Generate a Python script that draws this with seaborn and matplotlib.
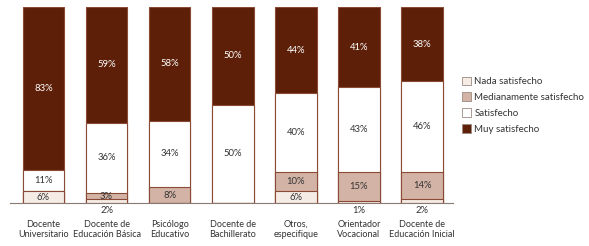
import matplotlib
matplotlib.use("Agg")
import matplotlib.pyplot as plt
import seaborn as sns
import numpy as np
import pandas as pd
from matplotlib.patches import Patch

categories = ["Docente\nUniversitario", "Docente de\nEducación Básica", "Psicólogo\nEducativo",
              "Docente de\nBachillerato", "Otros,\nespecifique", "Orientador\nVocacional",
              "Docente de\nEducación Inicial"]
series = ["Nada satisfecho", "Medianamente satisfecho", "Satisfecho", "Muy satisfecho"]
nada = [6, 2, 0, 0, 6, 1, 2]
medianamente = [0, 3, 8, 0, 10, 15, 14]
satisfecho = [11, 36, 34, 50, 40, 43, 46]
muy = [83, 59, 58, 50, 44, 41, 38]

colors = ["#f6ece6", "#d2b3a5", "#ffffff", "#5d1f08"]
edge = "#8a4a36"

sns.set_theme(style="white")
plt.rcParams["font.family"] = ["Lato", "DejaVu Sans"]

fig = plt.figure(figsize=(5.89, 2.46), dpi=100)
ax = fig.add_axes([10 / 589, 43 / 246, 443 / 589, 196 / 246])

vals = np.array([nada, medianamente, satisfecho, muy])
cum = vals.cumsum(axis=0)

# draw cumulative totals from the top segment down so the smaller ones stay visible
for i in range(3, -1, -1):
    df = pd.DataFrame({"cat": categories, "v": cum[i]})
    sns.barplot(data=df, x="cat", y="v", color=colors[i], edgecolor=edge,
                linewidth=0.8, width=0.66, saturation=1, ax=ax)

for j in range(len(categories)):
    for i in range(4):
        v = vals[i, j]
        if v == 0:
            continue
        mid = cum[i, j] - v / 2
        tc = "white" if i == 3 else "#333333"
        if v < 3:
            ax.text(j, -1.5, f"{v}%", ha="center", va="top", fontsize=6.8, color="#333333")
        else:
            ax.text(j, mid, f"{v}%", ha="center", va="center", fontsize=6.8, color=tc)

ax.set_xlim(-0.53, 6.49)
ax.set_ylim(0, 100)
ax.set_xlabel("")
ax.set_ylabel("")
ax.set_yticks([])
ax.tick_params(axis="x", length=0, pad=12, labelsize=6.5, colors="#333333")
sns.despine(ax=ax, left=True)
ax.spines["bottom"].set_color("#8a7a72")
ax.spines["bottom"].set_linewidth(0.8)

handles = [Patch(facecolor=colors[i], edgecolor="#9a8a82", linewidth=0.6, label=series[i])
           for i in range(4)]
fig.legend(handles=handles, loc="upper left", bbox_to_anchor=(453 / 589, 178 / 246),
           frameon=False, fontsize=7, handlelength=1.0, handleheight=1.0,
           handletextpad=0.3, labelspacing=0.62, labelcolor="#333333")

plt.savefig("out.png", dpi=100)
